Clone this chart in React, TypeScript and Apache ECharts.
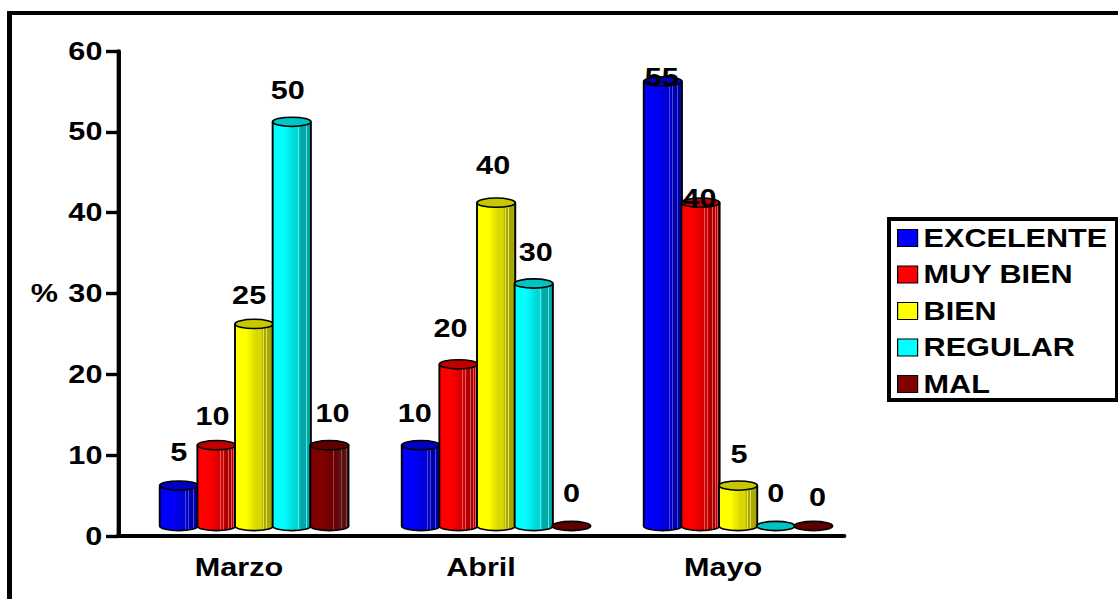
import React, { useEffect, useRef } from "react";
import * as echarts from "echarts";

const months = ["Marzo", "Abril", "Mayo"];
const ratings = ["EXCELENTE", "MUY BIEN", "BIEN", "REGULAR", "MAL"];
const excelente = [5, 10, 55];
const muyBien = [10, 20, 40];
const bien = [25, 40, 5];
const regular = [50, 30, 0];
const mal = [10, 0, 0];
const seriesValues = [excelente, muyBien, bien, regular, mal];
const yTicks = { min: 0, max: 60, interval: 10 };

// Face colours of each cylinder: lit side, middle, shaded side, highlight streak, cap.
const lit = ["#0000ff", "#ff0000", "#ffff00", "#00ffff", "#800000"];
const mid = ["#0000d8", "#d80000", "#d8d800", "#00d8d8", "#700000"];
const shade = ["#0000a8", "#a80000", "#a8a800", "#00a8a8", "#581010"];
const streak = ["#4848e0", "#e05858", "#e0e060", "#60e0e0", "#8a4848"];
const cap = ["#0000c0", "#c00000", "#c8c800", "#00c4c4", "#5e0000"];

// Nudges for individual value labels [dx, dy], by series then month.
const labelNudge = [
  [[0, 0], [-6, 1], [-1, 29]],
  [[-4, 4], [-8, -3], [-1, 29]],
  [[-5, 4], [-3, -4], [1, 2]],
  [[-4, 2], [2, 2], [0, 0]],
  [[3, 1], [0, 0], [4, 4]],
];

// The drawing is laid out narrow and widened as a whole by this factor.
const WIDEN = 1.2;
const W = 1118 / WIDEN;
const H = 599;
const px = (x: number) => x / WIDEN;

const FONT = "Liberation Sans";
const FONT_SIZE = 25.5;
const BAR = 0.158; // cylinder width, as a share of a month's band
const PITCH = 0.1555; // distance between neighbouring cylinders
const SHIFT = 0.0625; // the group sits right of the band centre
const DEPTH = 10; // the floor of the 3D scene sits this far above the axis
const RY = 4.6;
const LABEL_LIFT = 33;

function stripes(i: number) {
  const stops: { offset: number; color: string }[] = [
    { offset: 0, color: lit[i] },
    { offset: 0.3, color: lit[i] },
    { offset: 0.56, color: mid[i] },
  ];
  [0.6, 0.67, 0.74, 0.81, 0.88, 0.94].forEach((o) => {
    const base = o < 0.72 ? mid[i] : shade[i];
    stops.push({ offset: o, color: base });
    stops.push({ offset: o, color: streak[i] });
    stops.push({ offset: o + 0.014, color: streak[i] });
    stops.push({ offset: o + 0.014, color: base });
  });
  stops.push({ offset: 1, color: shade[i] });
  return new echarts.graphic.LinearGradient(0, 0, 1, 0, stops);
}

function cylinder(seriesIndex: number) {
  return (params: any, api: any) => {
    const cat = api.value(0);
    const val = api.value(1);
    const band = api.size([1, 0])[0];
    const [cx0, yTop0] = api.coord([cat, val]);
    const [, yBase0] = api.coord([cat, 0]);
    const cx = cx0 + band * (SHIFT + (seriesIndex - 2) * PITCH);
    const rx = (band * BAR) / 2;
    const yTop = yTop0 - DEPTH;
    const yBase = yBase0 - DEPTH;
    const edge = { stroke: "#000", lineWidth: 1.6 };
    const nudge = labelNudge[seriesIndex][cat];
    const children: any[] = [];
    if (val > 0) {
      children.push(
        {
          type: "ellipse",
          shape: { cx, cy: yBase, rx, ry: RY },
          style: { fill: stripes(seriesIndex), ...edge },
        },
        {
          type: "rect",
          shape: { x: cx - rx, y: yTop, width: rx * 2, height: yBase - yTop },
          style: { fill: stripes(seriesIndex) },
        },
        { type: "line", shape: { x1: cx - rx, y1: yTop, x2: cx - rx, y2: yBase }, style: edge },
        { type: "line", shape: { x1: cx + rx, y1: yTop, x2: cx + rx, y2: yBase }, style: edge }
      );
    }
    children.push({
      type: "ellipse",
      shape: { cx, cy: yTop, rx, ry: RY },
      style: { fill: cap[seriesIndex], ...edge },
    });
    children.push({
      type: "text",
      x: cx + px(nudge[0]),
      y: yTop - LABEL_LIFT + nudge[1],
      style: {
        text: String(val),
        font: `bold ${FONT_SIZE}px "${FONT}"`,
        fill: "#000",
        align: "center",
        verticalAlign: "middle",
      },
    });
    return { type: "group", children };
  };
}

// A filled bar, so that frame lines keep their thickness once widened.
const bar = (x: number, y: number, w: number, h: number, z = 0) => ({
  type: "rect",
  z,
  silent: true,
  shape: { x: px(x), y, width: px(w), height: h },
  style: { fill: "#000" },
});

export default function App() {
  const ref = useRef<HTMLDivElement>(null);
  useEffect(() => {
    const chart = echarts.init(ref.current!, null, { renderer: "svg" });
    chart.setOption({
      animation: false,
      backgroundColor: "#fff",
      textStyle: { fontFamily: FONT },
      grid: { left: px(118), top: 51, width: px(726), height: 485, containLabel: false },
      graphic: [
        bar(7, 11, 1111, 4),
        bar(7, 11, 5, 588),
        bar(887, 217, 231, 4),
        bar(887, 398, 231, 4),
        bar(887, 217, 4, 185),
        bar(1115, 217, 3, 185),
      ],
      legend: {
        orient: "vertical",
        left: px(897),
        top: 225,
        padding: 0,
        data: ratings,
        selectedMode: false,
        icon: "rect",
        itemWidth: px(20),
        itemHeight: 17,
        itemGap: 10.5,
        textStyle: {
          fontFamily: FONT,
          fontWeight: "bold",
          fontSize: FONT_SIZE,
          color: "#000",
        },
        itemStyle: { borderColor: "#000", borderWidth: 1 },
      },
      xAxis: {
        type: "category",
        data: months,
        boundaryGap: true,
        axisLine: { lineStyle: { color: "#000", width: 4 } },
        axisTick: { length: 10, lineStyle: { color: "#000", width: 3.6 } },
        axisLabel: { margin: 18, color: "#000", fontFamily: FONT, fontWeight: "bold", fontSize: FONT_SIZE },
        splitLine: { show: false },
      },
      yAxis: {
        type: "value",
        ...yTicks,
        name: "%",
        nameLocation: "middle",
        nameRotate: 0,
        nameGap: px(60),
        nameTextStyle: {
          color: "#000",
          fontFamily: FONT,
          fontWeight: "bold",
          fontSize: FONT_SIZE,
          padding: [6, 0, 0, 0],
        },
        axisLine: { show: true, lineStyle: { color: "#000", width: 3.6 } },
        axisTick: { show: true, length: 10, lineStyle: { color: "#000", width: 3.4 } },
        axisLabel: { margin: 13, color: "#000", fontFamily: FONT, fontWeight: "bold", fontSize: FONT_SIZE },
        splitLine: { show: false },
      },
      series: ratings.map((name, i) => ({
        name,
        type: "custom",
        coordinateSystem: "cartesian2d",
        itemStyle: { color: lit[i] },
        encode: { x: 0, y: 1 },
        data: seriesValues[i].map((v, c) => [c, v]),
        renderItem: cylinder(i),
      })),
    });
    return () => chart.dispose();
  }, []);
  return (
    <div style={{ position: "fixed", left: 0, top: 0, width: 1118, height: H, overflow: "hidden", background: "#fff" }}>
      <div
        ref={ref}
        style={{ width: W, height: H, transform: `scaleX(${WIDEN})`, transformOrigin: "0 0" }}
      />
    </div>
  );
}
